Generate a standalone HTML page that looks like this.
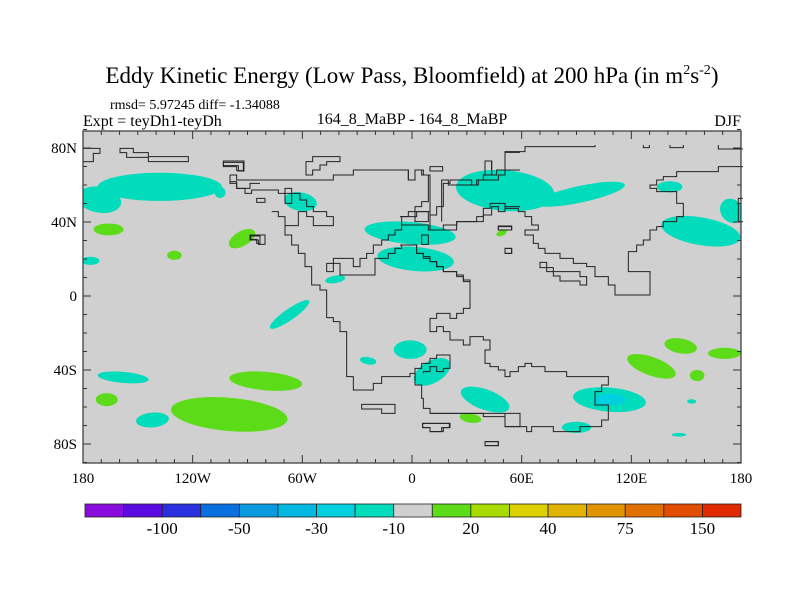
<!DOCTYPE html>
<html><head><meta charset="utf-8"><style>
html,body{margin:0;padding:0;background:#fff;width:800px;height:600px;overflow:hidden}
svg{display:block}
text{font-family:"Liberation Serif",serif;fill:#000}
</style></head><body>
<svg id="chart" width="800" height="600" viewBox="0 0 800 600">
<text x="412" y="83" text-anchor="middle" font-size="23">Eddy Kinetic Energy (Low Pass, Bloomfield) at 200 hPa (in m<tspan dy="-9" font-size="14">2</tspan><tspan dy="9">s</tspan><tspan dy="-9" font-size="14">-2</tspan><tspan dy="9">)</tspan></text>
<text x="110" y="109" font-size="14">rmsd= 5.97245 diff= -1.34088</text>
<text x="83" y="126" font-size="16">Expt = teyDh1-teyDh</text>
<text x="412" y="124" text-anchor="middle" font-size="16">164_8_MaBP - 164_8_MaBP</text>
<text x="741" y="126" text-anchor="end" font-size="16">DJF</text>
<rect x="83" y="131" width="658" height="332" fill="#d0d0d0"/>
<g id="blobs"></g>
<g fill="none" stroke="#222" stroke-width="3" stroke-linejoin="miter">
<g transform="translate(220,145) scale(0.33333)">
<path d="M155,200 L175,200 L175,215 L195,215 L195,270 L215,270 L215,300 L235,300 L235,325 L255,325 L255,365 L275,365 L275,420 L300,420 L300,435 L320,435 L320,518 L340,518 L340,530 L360,530 L360,560 L380,560 L380,695 L400,695 L400,735 L460,735 L460,715 L485,715 L485,695 L570,695 L570,685 L585,685 L585,720 L605,720 L605,760 L610,760 L610,790 L630,790 L630,805 L900,805 L900,845 L855,845 L855,805"/>
<path d="M585,685 L585,670 L605,670 L605,655 L630,655 L630,640 L650,640 L650,630 L690,630 L690,670 L670,670 L670,680 L650,680 L650,665 L630,665 L630,680 L610,680 L610,685"/>
<path d="M30,90 L30,110 L50,110 L50,130 L75,130 L75,145 L95,145 L95,135 L175,135 L175,145 L240,145 L240,165 L260,165 L260,185 L280,185 L280,200 L320,200 L320,215 L340,215 L340,242 L280,242 L280,215 L260,215 L260,200 L235,200 L235,242 L195,242"/>
<path d="M30,90 L50,90 L50,105 L340,105 L340,90 L400,90 L400,75 L565,75 L565,105 L585,105 L585,75 L605,75 L605,90 L625,90 L625,170 L605,170 L605,185 L585,185 L585,200 L565,200 L565,215 L545,215 L545,240 L625,240 L625,255 L710,255 L710,230 L790,230 L790,210 L815,210 L815,185 L835,185 L835,200 L855,200 L855,185 L900,185"/>
<path d="M545,240 L545,255 L525,255 L525,270 L505,270 L505,285 L485,285 L485,300 L460,300 L460,325 L440,325 L440,340 L420,340 L420,365 L400,365 L400,340 L340,340 L340,380 L320,380 L320,355 L360,355 L360,390 L465,390 L465,340 L505,340 L505,325 L525,325 L525,310 L545,310 L545,300 L590,300 L590,325 L610,325 L610,340 L630,340 L630,350 L650,350 L650,365 L670,365 L670,380 L710,380 L710,395 L730,395 L730,405 L750,405 L750,490"/>
<path d="M665,230 L665,105 L685,105 L685,120 L770,120 L770,105 L790,105 L790,90 L830,90 L830,75 L900,75"/>
<path d="M585,200 L625,200 L625,230 L585,230 Z M195,130 L215,130 L215,175 L195,175 Z M605,270 L625,270 L625,298 L605,298 Z M90,270 L135,270 L135,298 L115,298 L115,285 L90,285 Z M10,48 L72,48 L72,78 L55,78 L55,62 L10,62 Z M258,80 L258,50 L278,50 L278,35 L360,35 L360,50 L320,50 L320,60 L300,60 L300,75 L278,75 L278,90 L258,90 Z M630,65 L668,65 L668,78 L630,78 Z M795,48 L815,48 L815,90 L795,90 Z M855,60 L855,22 L900,22 M835,245 L875,245 L875,255 L835,255 Z M855,310 L875,310 L875,325 L855,325 Z M425,778 L525,778 L525,805 L485,805 L485,792 L425,792 Z M608,835 L688,835 L688,848 L665,848 L665,860 L630,860 L630,848 L608,848 Z M795,890 L835,890 L835,902 L795,902 Z M110,160 L135,160 L135,172 L110,172 Z"/>
</g>
<g transform="translate(400,145) scale(0.33333)">
<path d="M90,805 L250,805 L250,815 L315,815 L315,845 L380,845 L380,860 L395,860 L395,845 L460,845 L460,860 L540,860 L540,845 L605,845 L605,825 L625,825 L625,780 L585,780 L585,740 L605,740 L605,720 L625,720 L625,695 L500,695 L500,680 L435,680 L435,665 L395,665 L395,655 L375,655 L375,665 L355,665 L355,680 L330,680 L330,695 L315,695 L315,675 L295,675 L295,665 L270,665 L270,655 L255,655 L255,615 L270,615 L270,585 L250,585 L250,575 L210,575 L210,600 L190,600 L190,585 L150,585 L150,560 L130,560 L130,545 L110,545 L110,560 L90,560 L90,520 L110,520 L110,505 L150,505 L150,520 L170,520 L170,505 L190,505 L190,490 L210,490 L210,410 L190,410 L190,390 L170,390 L170,380 L130,380 L130,365 L110,365 L110,350 L90,350 L90,335 L70,335 L70,325 L50,325 L50,300 L0,300"/>
<path d="M0,75 L25,75 L25,105 L45,105 L45,75 L70,75 L70,90 L90,90 L90,210 L110,210 L110,185 L130,185 L130,115 L150,115 L150,105 L215,105 L215,120 L235,120 L235,105 L295,105 L295,90 L315,90 L315,20 L375,20 L375,5 L585,5 L585,0"/>
<path d="M0,215 L50,215 L50,200 L90,200 L90,255 L130,255 L130,240 L170,240 L170,230 L230,230 L230,215 L250,215 L250,190 L270,190 L270,175 L315,175 L315,190 L355,190 L355,200 L375,200 L375,215 L395,215 L395,240 L415,240 L415,255 L375,255 L375,270 L400,270 L400,295 L415,295 L415,310 L435,310 L435,325 L480,325 L480,340 L520,340 L520,355 L560,355 L560,365 L585,365 L585,395 L625,395 L625,420 L645,420 L645,450 L750,450 L750,380 L685,380 L685,320 L710,320 L710,300 L730,300 L730,285 L750,285 L750,255 L770,255 L770,245 L790,245 L790,230 L830,230 L830,215 L850,215 L850,175 L830,175 L830,140 L770,140 L770,130 L750,130 L750,120 L770,120 L770,105 L790,105 L790,95 L830,95 L830,80 L955,80 L955,65 L1029,65"/>
<path d="M420,352 L440,352 L440,368 L460,368 L460,380 L540,380 L540,395 L560,395 L560,420 L540,420 L540,408 L480,408 L480,393 L460,393 L460,380 L440,380 L440,368 L420,368 Z M255,48 L275,48 L275,90 L255,90 Z M295,243 L335,243 L335,255 L295,255 Z M315,310 L335,310 L335,325 L315,325 Z M68,835 L150,835 L150,848 L130,848 L130,860 L90,860 L90,848 L68,848 Z M255,890 L295,890 L295,902 L255,902 Z M730,0 L730,8 L748,8 L748,0 M810,0 L810,8 L850,8 L850,0 M955,0 L955,12 L1029,12 M1029,160 L1015,160 L1015,230 L1029,230"/>
</g>
<g transform="translate(60,130) scale(0.33333)">
<path d="M70,55 L120,55 L120,70 L100,70 L100,95 L70,95 M180,55 L220,55 L220,68 L265,68 L265,80 L385,80 L385,95 L265,95 L265,82 L200,82 L200,68 L180,68 Z M490,97 L550,97 L550,122 L530,122 L530,110 L490,110 Z M510,135 L510,160 L530,160 L530,175 L570,175 L570,160 L600,160 M572,318 L600,318 L600,340 L590,340 L590,328 L572,328 Z"/>
</g>
</g>
<g id="axes"></g>
<g id="colorbar"></g>
</svg>
<script>
// contour blob data (lon, lat, radii in degrees, rotation, EKE difference value)
const blobLon = [-138,-171,-166,-176,-130,-93,-158,-167,-142,-80,-100,-61,-105,-67,-42,-1,2,51,92,-1,-24,11,40,32,49,141,158,175,131,147,171,156,108,108,90,153,146];
const blobLat = [59,52,36,19,22,31,-44,-56,-67,-46,-64,51,56,-10,9,34,20,57,55,-29,-35,-41,-56,-66,34,59,35,46,-38,-27,-31,-43,-56,-56,-71,-57,-75];
const blobRx  = [34,12,8.2,5,4,8,14,6,9,20,32,9,3,13,5.5,25,21,27,25,9,4.5,11,14,6,3,7,22,6,14,9,9,4,20,9,8,2.5,4];
const blobRy  = [7.6,7,3.2,2.2,2.5,4,3,3.5,4,5,9,5,3,3,2,6,6.5,11,4.5,5,2,6,5.5,2.5,1.5,3,7.5,7,5,4,3,3,6.5,3,3,1.2,1];
const blobRot = [0,10,0,0,0,-30,5,0,-5,5,5,10,0,-35,-10,5,5,5,-12,0,10,-30,20,10,-20,0,10,-40,20,10,0,0,5,0,0,0,0];
const blobVal = [-15,-15,15,-15,15,15,-15,15,-15,15,15,-15,-15,-15,-15,-15,-15,-15,-15,-15,-15,-15,-15,15,15,-15,-15,-15,15,15,15,15,-15,-25,-15,-15,-15];
// colorbar
const levels = [-150,-100,-75,-50,-40,-30,-20,-10,10,20,30,40,50,75,100,150];
const levelColors = ['#8a0cdc','#5a0ce0','#2a30e0','#0a70e0','#0a9ae0','#00b8e0','#00d0e0','#00dcbc','#d0d0d0','#5cdc18','#a8dc00','#dcd000','#e0b400','#e09400','#e07000','#e04c00','#e02a00'];
const lonTicks = [-180,-120,-60,0,60,120,180];
const lonLabels = ['180','120W','60W','0','60E','120E','180'];
const latTicks = [80,40,0,-40,-80];
const latLabels = ['80N','40N','0','40S','80S'];

const NS='http://www.w3.org/2000/svg';
const X0=83,X1=741,Y0=131,Y1=463;
function xOf(lon){return X0+(lon+180)/360*(X1-X0);}
function yOf(lat){return 296-lat*1.85;}
function colorOf(v){let i=0;while(i<levels.length&&v>levels[i])i++;return levelColors[i];}
function mk(tag,attrs,parent){const e=document.createElementNS(NS,tag);for(const k in attrs)e.setAttribute(k,attrs[k]);parent.appendChild(e);return e;}

const gB=document.getElementById('blobs');
const clip=mk('clipPath',{id:'mapclip'},document.getElementById('chart'));
mk('rect',{x:X0,y:Y0,width:X1-X0,height:Y1-Y0},clip);
gB.setAttribute('clip-path','url(#mapclip)');
for(let i=0;i<blobLon.length;i++){
  const cx=xOf(blobLon[i]),cy=yOf(blobLat[i]);
  const e=mk('ellipse',{cx:cx,cy:cy,rx:blobRx[i]*(X1-X0)/360,ry:blobRy[i]*1.85,fill:colorOf(blobVal[i]),transform:'rotate('+blobRot[i]+' '+cx+' '+cy+')'},gB);
  
  
}

const gA=document.getElementById('axes');
const fr=mk('rect',{x:X0,y:Y0,width:X1-X0,height:Y1-Y0,fill:'none',stroke:'#333','stroke-width':1.2},gA);


for(let lon=-180;lon<=180;lon+=10){
  const x=xOf(lon),L=(lon%60===0)?8:4;
  mk('line',{x1:x,x2:x,y1:Y1,y2:Y1-L,stroke:'#333','stroke-width':1},gA);
  mk('line',{x1:x,x2:x,y1:Y0,y2:Y0+L,stroke:'#333','stroke-width':1},gA);
}
for(let lat=-90;lat<=90;lat+=10){
  const y=yOf(lat),L=(lat%40===0)?8:4;
  mk('line',{x1:X0,x2:X0+L,y1:y,y2:y,stroke:'#333','stroke-width':1},gA);
  mk('line',{x1:X1,x2:X1-L,y1:y,y2:y,stroke:'#333','stroke-width':1},gA);
}
lonTicks.forEach((v,i)=>{
  const t=mk('text',{x:xOf(v),y:483,'text-anchor':'middle','font-size':15},gA);
  t.textContent=lonLabels[i];
  
  
});
latTicks.forEach((v,i)=>{
  const t=mk('text',{x:77,y:yOf(v)+5,'text-anchor':'end','font-size':15},gA);
  t.textContent=latLabels[i];
  
  
});

const gC=document.getElementById('colorbar');
const CB0=85,CB1=741,CBY=504,CBH=13,bw=(CB1-CB0)/levelColors.length;
levelColors.forEach((c,i)=>{
  const r=mk('rect',{x:CB0+i*bw,y:CBY,width:bw,height:CBH,fill:c,stroke:'#222','stroke-width':0.8},gC);
  
  
});
levels.forEach((v,i)=>{
  if(i%2!==1)return;
  const t=mk('text',{x:CB0+(i+1)*bw,y:534,'text-anchor':'middle','font-size':17},gC);
  t.textContent=String(v);
  
  
});
</script>
</body></html>
